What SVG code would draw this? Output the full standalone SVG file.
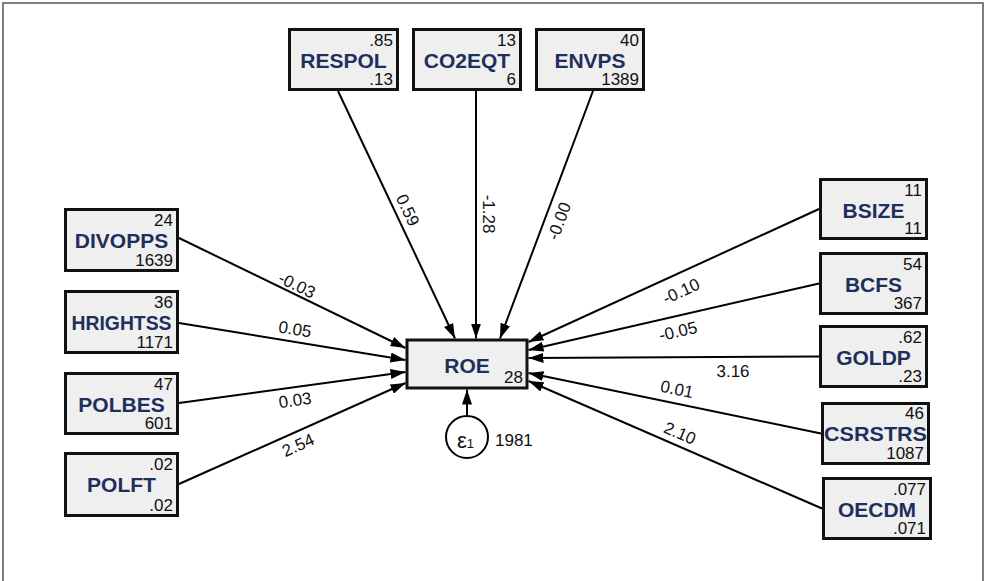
<svg xmlns="http://www.w3.org/2000/svg" width="985" height="581" viewBox="0 0 985 581">
<defs>
<style>
.box{fill:#efefef;stroke:#111;stroke-width:3}
.lbl{font-family:"Liberation Sans",Arial,sans-serif;font-weight:bold;font-size:21px;fill:#1f2f5c;text-anchor:middle}
.num{font-family:"Liberation Sans",Arial,sans-serif;font-size:17px;fill:#111;text-anchor:end}
.el{font-family:"Liberation Sans",Arial,sans-serif;font-size:17px;fill:#111;text-anchor:middle}
.cn{stroke:#000;stroke-width:2;fill:none;marker-end:url(#ah)}
</style>
<marker id="ah" markerUnits="userSpaceOnUse" markerWidth="15" markerHeight="10" viewBox="0 0 15 10" refX="15" refY="5" orient="auto">
<path d="M0,0 L15,5 L0,10 Z" fill="#000"/>
</marker>
</defs>
<rect width="985" height="581" fill="#fff"/>
<path d="M3,581 V3 H983 V581" fill="none" stroke="#555" stroke-width="1.5"/>

<g id="connectors">
<line class="cn" x1="338" y1="91" x2="455" y2="338.5"/>
<line class="cn" x1="476" y1="91" x2="476" y2="338.5"/>
<line class="cn" x1="593" y1="91" x2="500" y2="338.5"/>
<line class="cn" x1="179" y1="238" x2="405.5" y2="348"/>
<line class="cn" x1="179" y1="323" x2="405.5" y2="360"/>
<line class="cn" x1="179" y1="403" x2="405.5" y2="372"/>
<line class="cn" x1="179" y1="484" x2="405.5" y2="383"/>
<line class="cn" x1="819" y1="209" x2="528.5" y2="342"/>
<line class="cn" x1="819" y1="283.5" x2="528.5" y2="350"/>
<line class="cn" x1="819" y1="356.5" x2="528.5" y2="358"/>
<line class="cn" x1="821" y1="433.5" x2="528.5" y2="373"/>
<line class="cn" x1="822" y1="508.5" x2="528.5" y2="381"/>
<line class="cn" x1="467" y1="416" x2="467" y2="389.5"/>
<g transform="translate(408,210) rotate(64.6)"><text class="el" y="6">0.59</text></g>
<g transform="translate(489,214) rotate(90)"><text class="el" y="6">-1.28</text></g>
<g transform="translate(559,221) rotate(-69.4)"><text class="el" y="6">-0.00</text></g>
<g transform="translate(297,285) rotate(25.9)"><text class="el" y="6">-0.03</text></g>
<g transform="translate(295,329) rotate(9.3)"><text class="el" y="6">0.05</text></g>
<g transform="translate(295,400) rotate(-7.8)"><text class="el" y="6">0.03</text></g>
<g transform="translate(298,445) rotate(-24)"><text class="el" y="6">2.54</text></g>
<g transform="translate(681,291) rotate(-24.6)"><text class="el" y="6">-0.10</text></g>
<g transform="translate(678,331) rotate(-12.9)"><text class="el" y="6">-0.05</text></g>
<g transform="translate(733,371) rotate(-0.3)"><text class="el" y="6">3.16</text></g>
<g transform="translate(677,389) rotate(11.7)"><text class="el" y="6">0.01</text></g>
<g transform="translate(680,433) rotate(23.5)"><text class="el" y="6">2.10</text></g>
</g>

<g id="ROE">
<rect class="box" x="407" y="340" width="120" height="48"/>
<text class="lbl" x="467" y="373">ROE</text>
<text class="num" x="523" y="383">28</text>
</g>

<g id="e1">
<circle cx="467" cy="437" r="21" fill="#fff" stroke="#000" stroke-width="2"/>
<text x="457" y="448" font-family="'Liberation Sans',Arial,sans-serif" font-size="22" fill="#111">ε<tspan font-size="13">1</tspan></text>
<text x="495" y="446" font-family="'Liberation Sans',Arial,sans-serif" font-size="17" fill="#111">1981</text>
</g>

<g id="RESPOL">
<rect class="box" x="289.5" y="29.5" width="108" height="60"/>
<text class="num" x="393" y="46">.85</text>
<text class="lbl" x="343.5" y="68">RESPOL</text>
<text class="num" x="393" y="85">.13</text>
</g>
<g id="CO2EQT">
<rect class="box" x="413.5" y="29.5" width="107" height="60"/>
<text class="num" x="516" y="46">13</text>
<text class="lbl" x="467" y="68">CO2EQT</text>
<text class="num" x="516" y="85">6</text>
</g>
<g id="ENVPS">
<rect class="box" x="536.5" y="29.5" width="107" height="60"/>
<text class="num" x="639" y="46">40</text>
<text class="lbl" x="590" y="68">ENVPS</text>
<text class="num" x="639" y="85">1389</text>
</g>

<g id="DIVOPPS">
<rect class="box" x="65.5" y="209.5" width="112" height="61"/>
<text class="num" x="173" y="226">24</text>
<text class="lbl" x="121.5" y="248">DIVOPPS</text>
<text class="num" x="173" y="266">1639</text>
</g>
<g id="HRIGHTSS">
<rect class="box" x="65.5" y="291.5" width="112" height="61"/>
<text class="num" x="173" y="308">36</text>
<text class="lbl" x="121.5" y="330" textLength="100" lengthAdjust="spacingAndGlyphs">HRIGHTSS</text>
<text class="num" x="173" y="348">1171</text>
</g>
<g id="POLBES">
<rect class="box" x="65.5" y="373.5" width="112" height="60"/>
<text class="num" x="173" y="390">47</text>
<text class="lbl" x="121.5" y="412">POLBES</text>
<text class="num" x="173" y="429">601</text>
</g>
<g id="POLFT">
<rect class="box" x="65.5" y="453.5" width="112" height="62"/>
<text class="num" x="173" y="470">.02</text>
<text class="lbl" x="121.5" y="492">POLFT</text>
<text class="num" x="173" y="511">.02</text>
</g>

<g id="BSIZE">
<rect class="box" x="820.5" y="179.5" width="106" height="59"/>
<text class="num" x="922" y="196">11</text>
<text class="lbl" x="873.5" y="218">BSIZE</text>
<text class="num" x="922" y="234">11</text>
</g>
<g id="BCFS">
<rect class="box" x="820.5" y="253.5" width="106" height="60"/>
<text class="num" x="922" y="270">54</text>
<text class="lbl" x="873.5" y="292">BCFS</text>
<text class="num" x="922" y="309">367</text>
</g>
<g id="GOLDP">
<rect class="box" x="820.5" y="326.5" width="106" height="60"/>
<text class="num" x="922" y="343">.62</text>
<text class="lbl" x="873.5" y="365">GOLDP</text>
<text class="num" x="922" y="382">.23</text>
</g>
<g id="CSRSTRS">
<rect class="box" x="822.5" y="403.5" width="106" height="60"/>
<text class="num" x="924" y="419">46</text>
<text class="lbl" x="875.5" y="441" font-size="20" textLength="103" lengthAdjust="spacingAndGlyphs">CSRSTRS</text>
<text class="num" x="924" y="459">1087</text>
</g>
<g id="OECDM">
<rect class="box" x="823.5" y="478.5" width="107" height="60"/>
<text class="num" x="926" y="495">.077</text>
<text class="lbl" x="877" y="517">OECDM</text>
<text class="num" x="926" y="534">.071</text>
</g>
</svg>
